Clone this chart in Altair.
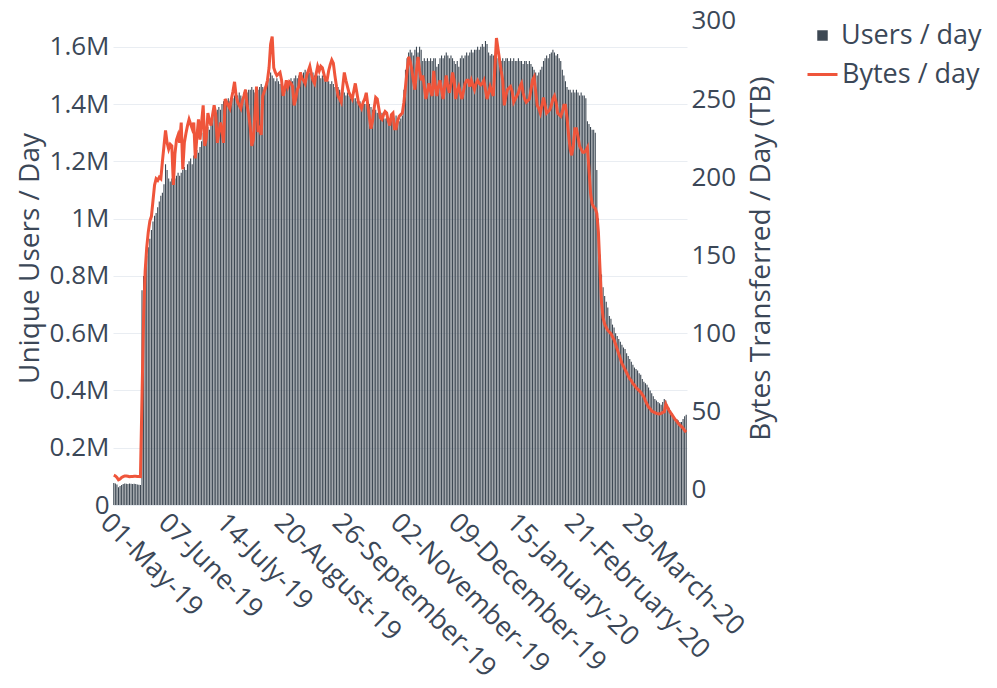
import altair as alt
import pandas as pd

# ---------------- data ----------------
start_date = "2019-05-01"

# Unique users per day, in millions
users_m = [
    0.077, 0.075, 0.072, 0.062, 0.066, 0.07, 0.073, 0.075, 0.074, 0.073, 0.075, 0.074, 0.073, 0.074, 0.073, 0.072, 0.071, 0.07,
    0.75, 0.80, 0.84, 0.87, 0.90, 0.93, 0.96, 0.99, 1.01, 1.02, 1.04, 1.06, 1.08, 1.09, 1.12, 1.19, 1.17, 1.14,
    1.13, 1.14, 1.12, 1.14, 1.15, 1.16, 1.15, 1.16, 1.17, 1.18, 1.17, 1.19,
    1.20, 1.21, 1.19, 1.22, 1.23, 1.24, 1.23, 1.25, 1.27, 1.30, 1.29, 1.31,
    1.32, 1.31, 1.34, 1.35, 1.37, 1.36, 1.38, 1.39, 1.38, 1.40, 1.41, 1.40,
    1.41, 1.42, 1.41, 1.40, 1.42, 1.43, 1.42, 1.43, 1.44, 1.43, 1.42, 1.44,
    1.45, 1.44, 1.45, 1.45, 1.46, 1.45, 1.44, 1.46, 1.45, 1.46, 1.47, 1.46,
    1.45, 1.47, 1.47, 1.49, 1.51, 1.50, 1.49, 1.48, 1.49, 1.48, 1.47, 1.46,
    1.45, 1.44, 1.46, 1.47, 1.48, 1.49, 1.48, 1.49, 1.50, 1.49, 1.50, 1.51,
    1.50, 1.51, 1.52, 1.51, 1.52, 1.51, 1.52, 1.51, 1.50, 1.51, 1.50, 1.50,
    1.49, 1.50, 1.49, 1.48, 1.49, 1.48, 1.47, 1.48, 1.47, 1.46, 1.47, 1.46,
    1.45, 1.44, 1.45, 1.44, 1.43, 1.44, 1.43, 1.42, 1.43, 1.42, 1.42, 1.41,
    1.42, 1.41, 1.40, 1.41, 1.40, 1.40, 1.39, 1.40, 1.39, 1.38, 1.39, 1.38,
    1.37, 1.38, 1.36, 1.37, 1.36, 1.35, 1.36, 1.35, 1.34, 1.36, 1.35, 1.34,
    1.36, 1.35, 1.34, 1.35, 1.36, 1.45, 1.52, 1.56, 1.58, 1.59, 1.58, 1.57,
    1.59, 1.60, 1.58, 1.60, 1.59, 1.55, 1.56, 1.55, 1.56, 1.55, 1.56, 1.55,
    1.56, 1.56, 1.53, 1.54, 1.56, 1.57, 1.56, 1.57, 1.58, 1.57, 1.56, 1.57,
    1.56, 1.55, 1.54, 1.55, 1.53, 1.56, 1.57, 1.56, 1.57, 1.58, 1.57, 1.58,
    1.59, 1.58, 1.59, 1.59, 1.60, 1.59, 1.60, 1.61, 1.60, 1.62, 1.61, 1.58,
    1.57, 1.575, 1.57, 1.57, 1.58, 1.56, 1.55, 1.55, 1.56, 1.55, 1.56, 1.56,
    1.55, 1.56, 1.55, 1.56, 1.55, 1.55, 1.56, 1.55, 1.55, 1.54, 1.55, 1.55,
    1.54, 1.55, 1.54, 1.53, 1.52, 1.51, 1.50, 1.51, 1.52, 1.53, 1.55, 1.56,
    1.57, 1.56, 1.575, 1.58, 1.59, 1.58, 1.57, 1.575, 1.56, 1.55, 1.52, 1.50,
    1.48, 1.46, 1.45, 1.45, 1.44, 1.45, 1.44, 1.45, 1.44, 1.43, 1.44, 1.43,
    1.43, 1.42, 1.34, 1.33, 1.32, 1.31, 1.31, 1.30, 1.17, 1.00, 0.875, 0.805,
    0.76, 0.73, 0.71, 0.69, 0.66, 0.65, 0.63, 0.62, 0.60, 0.59, 0.58, 0.57,
    0.56, 0.55, 0.545, 0.53, 0.52, 0.51, 0.50, 0.49, 0.48, 0.475, 0.47, 0.46,
    0.455, 0.44, 0.43, 0.425, 0.42, 0.41, 0.40, 0.39, 0.38, 0.37, 0.365, 0.36,
    0.355, 0.35, 0.36, 0.37, 0.365, 0.35, 0.34, 0.33, 0.32, 0.31, 0.30, 0.30,
    0.295, 0.29, 0.29, 0.30, 0.31, 0.315,
]

# Bytes transferred per day, in TB
bytes_tb = [
    9.5, 9, 8, 6.5, 7, 8, 8.5, 9, 9, 8.8, 8.5, 8.6, 8.7, 8.8, 8.8, 8.7, 8.6, 8.5,
    60, 110, 140, 155, 165, 172, 175, 185, 195, 199, 198, 200, 199, 210, 220, 230, 222, 218,
    221, 220, 195, 215, 224, 227, 222, 235, 205, 222, 228, 233,
    237, 234, 231, 235, 212, 226, 237, 224, 235, 246, 220, 225,
    241, 236, 233, 240, 246, 240, 222, 228, 235, 230, 222, 250,
    248, 246, 244, 250, 255, 261, 252, 248, 246, 244, 249, 252,
    256, 246, 240, 232, 220, 224, 240, 258, 229, 231, 227, 252,
    255, 258, 262, 270, 285, 290, 270, 267, 265, 266, 267, 262,
    252, 256, 262, 258, 261, 260, 258, 246, 250, 256, 258, 267,
    263, 262, 260, 265, 268, 271, 266, 262, 260, 266, 271, 268,
    271, 270, 266, 262, 262, 268, 272, 275, 273, 265, 258, 252,
    250, 248, 258, 267, 262, 258, 254, 252, 250, 255, 260, 254,
    248, 246, 244, 248, 250, 254, 246, 238, 231, 236, 244, 251,
    250, 244, 238, 237, 240, 242, 241, 236, 233, 240, 241, 231,
    231, 236, 239, 240, 241, 248, 258, 268, 277, 274, 269, 262,
    256, 268, 277, 268, 262, 265, 258, 250, 255, 260, 255, 252,
    268, 258, 252, 258, 262, 256, 250, 258, 265, 258, 254, 260,
    267, 262, 250, 255, 258, 254, 250, 255, 260, 262, 262, 258,
    262, 259, 256, 260, 262, 260, 259, 260, 262, 256, 250, 254,
    258, 255, 252, 270, 289, 282, 275, 268, 262, 246, 252, 256,
    257, 258, 255, 248, 250, 252, 254, 258, 260, 254, 250, 248,
    249, 250, 256, 262, 264, 255, 246, 244, 241, 246, 251, 246,
    241, 242, 243, 246, 250, 252, 248, 241, 240, 239, 242, 246,
    246, 238, 227, 218, 214, 220, 231, 231, 226, 220, 218, 216,
    216, 217, 219, 205, 190, 183, 181, 180, 177, 165, 142, 120,
    110, 106, 104, 102, 101, 100, 98, 96, 93, 90, 87, 84,
    81, 79, 77, 75, 73, 71, 70, 68, 67, 65.5, 64.5, 63.5,
    62.5, 61, 59.5, 57, 55, 53, 52, 50.5, 50, 49.5, 49, 48.8,
    48.6, 49, 49.6, 50, 55, 53, 51, 49.5, 48, 46.5, 45, 44,
    42.5, 41.5, 40.5, 39.5, 38, 37,
]

tick_dates = ["2019-05-01", "2019-06-07", "2019-07-14", "2019-08-20", "2019-09-26",
              "2019-11-02", "2019-12-09", "2020-01-15", "2020-02-21", "2020-03-29"]
left_ticks = [0, 0.2, 0.4, 0.6, 0.8, 1.0, 1.2, 1.4, 1.6]
right_ticks = [0, 50, 100, 150, 200, 250, 300]

series_users = "Users / day"
series_bytes = "Bytes / day"

n = min(len(users_m), len(bytes_tb))
dates = pd.date_range(start_date, periods=n, freq="D").strftime("%Y-%m-%d").tolist()
df = pd.DataFrame({
    "date": dates,
    "users": users_m[:n],
    "bytes": bytes_tb[:n],
    "su": series_users,
    "sb": series_bytes,
})

# ---------------- styling ----------------
FONT = "Open Sans"
FS_TICK = 26
FS_TITLE = 28
FS_LEG = 27
TXT = "#3b4757"
BAR = "#3d4853"
LINE = "#EF553B"
GRID = "#e9edf2"

x = alt.X(
    "date:O",
    scale=alt.Scale(paddingInner=0.3, paddingOuter=0.15),
    axis=alt.Axis(
        values=tick_dates,
        labelExpr="utcFormat(toDate(datum.value), '%d-%B-%y')",
        labelAngle=45, labelAlign="left", labelBaseline="top",
        labelPadding=4, ticks=False, domain=False, grid=False, title=None,
        labelOverlap=False, labelLimit=0, labelFontSize=27,
    ),
)

bars = alt.Chart(df).mark_bar().encode(
    x=x,
    y=alt.Y(
        "users:Q",
        scale=alt.Scale(domain=[0, 1.725], nice=False, zero=True),
        axis=alt.Axis(
            values=left_ticks, orient="left", title="Unique Users / Day",
            labelExpr="datum.value == 0 ? '0' : format(datum.value, '~g') + 'M'",
            grid=True, gridColor=GRID, gridWidth=1, ticks=False, domain=False,
            labelPadding=4, titlePadding=5,
        ),
    ),
    fill=alt.Fill(
        "su:N",
        scale=alt.Scale(domain=[series_users], range=[BAR]),
        legend=alt.Legend(
            title=None, orient="none", legendX=696, legendY=11,
            symbolType="square", symbolSize=110, symbolStrokeWidth=0,
            labelFontSize=FS_LEG, labelFont=FONT, labelColor=TXT, labelOffset=5,
        ),
    ),
)

line = alt.Chart(df).mark_line(strokeWidth=3).encode(
    x=x,
    y=alt.Y(
        "bytes:Q",
        scale=alt.Scale(domain=[-9.6, 306.3], nice=False, zero=False),
        axis=alt.Axis(
            values=right_ticks, orient="right", title="Bytes Transferred / Day (TB)",
            titleAngle=270, grid=False, ticks=False, domain=False,
            labelPadding=4, titlePadding=40,
        ),
    ),
    stroke=alt.Stroke(
        "sb:N",
        scale=alt.Scale(domain=[series_bytes], range=[LINE]),
        legend=alt.Legend(
            title=None, orient="none", legendX=693, legendY=47,
            symbolType="stroke", symbolSize=900, symbolStrokeWidth=3,
            labelFontSize=FS_LEG, labelFont=FONT, labelColor=TXT, labelOffset=3,
        ),
    ),
)

chart = alt.layer(bars, line).resolve_scale(
    y="independent", fill="independent", stroke="independent"
).properties(
    width=574, height=494,
    background="white",
    autosize=alt.AutoSizeParams(type="none"),
    padding={"left": 105, "top": 3, "right": 300, "bottom": 175},
).configure_view(strokeWidth=0).configure_axis(
    labelFont=FONT, labelFontSize=FS_TICK, labelColor=TXT,
    titleFont=FONT, titleFontSize=FS_TITLE, titleColor=TXT, titleFontWeight="normal",
)

chart.save("out.html", embed_options={"renderer": "svg", "actions": False})
